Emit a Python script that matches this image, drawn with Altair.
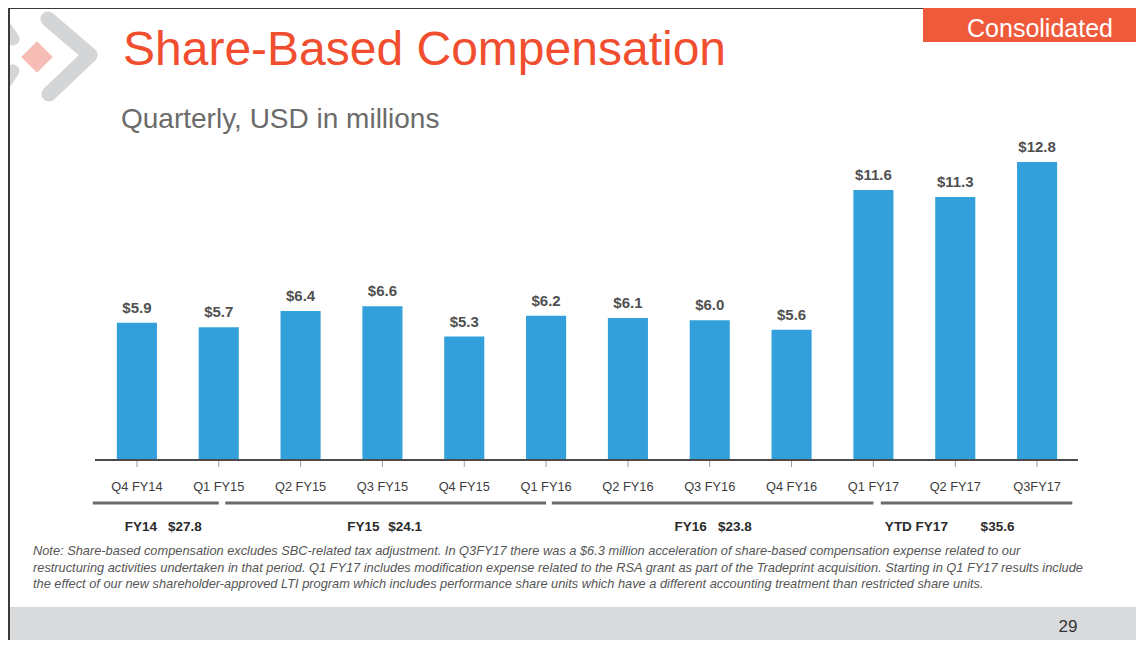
import altair as alt
import pandas as pd

# ---------------- data ----------------
quarters = ["Q4 FY14", "Q1 FY15", "Q2 FY15", "Q3 FY15", "Q4 FY15", "Q1 FY16",
            "Q2 FY16", "Q3 FY16", "Q4 FY16", "Q1 FY17", "Q2 FY17", "Q3FY17"]
sbc_values = [5.9, 5.7, 6.4, 6.6, 5.3, 6.2, 6.1, 6.0, 5.6, 11.6, 11.3, 12.8]

fy_names = ["FY14", "FY15", "FY16", "YTD FY17"]
fy_totals = [27.8, 24.1, 23.8, 35.6]

note_lines = [
    "Note: Share-based compensation excludes SBC-related tax adjustment. In Q3FY17 there was a $6.3 million acceleration of share-based compensation expense related to our",
    "restructuring activities undertaken in that period. Q1 FY17 includes modification expense related to the RSA grant as part of the Tradeprint acquisition. Starting in Q1 FY17 results include",
    "the effect of our new shareholder-approved LTI program which includes performance share units which have a different accounting treatment than restricted share units.",
]

# ---------------- layout (index units on the quarter axis) ----------------
bracket_from = [-0.54, 1.08, 5.07, 9.09]
bracket_to = [1.0, 5.0, 9.0, 11.43]
fy_name_pos = [-0.15, 2.57, 6.57, 9.14]
fy_total_pos = [0.38, 3.07, 7.10, 10.31]

W, H = 1128, 632
FONT = "Liberation Sans"
BAR_COLOR = "#34A0DB"
ORANGE = "#F04E2F"

xs = alt.Scale(domain=[-0.5, 11.5], range=[88, 1070])
ys = alt.Scale(domain=[0, 12.8], range=[452, 154])

bars_df = pd.DataFrame({
    "idx": list(range(len(quarters))),
    "quarter": quarters,
    "value": sbc_values,
})
bars_df["x0"] = bars_df["idx"] - 0.245
bars_df["x1"] = bars_df["idx"] + 0.245
bars_df["label"] = ["$" + format(v, ".1f") for v in sbc_values]

fy_df = pd.DataFrame({
    "name": fy_names,
    "total": ["$" + format(v, ".1f") for v in fy_totals],
    "from": bracket_from,
    "to": bracket_to,
    "npos": fy_name_pos,
    "tpos": fy_total_pos,
})

one = pd.DataFrame({"k": [0]})

# ---------------- bars and labels ----------------
bars = alt.Chart(bars_df).mark_rect(color=BAR_COLOR).encode(
    x=alt.X("x0:Q", scale=xs, axis=None),
    x2="x1:Q",
    y=alt.Y("value:Q", scale=ys, axis=None),
    y2=alt.datum(0),
)

value_labels = alt.Chart(bars_df).mark_text(
    font=FONT, fontSize=15, fontWeight="bold", color="#505050", baseline="middle", dy=-15
).encode(
    x=alt.X("idx:Q", scale=xs, axis=None),
    y=alt.Y("value:Q", scale=ys, axis=None),
    text="label:N",
)

axis_line = alt.Chart(one).mark_rule(color="#4a4a4a", strokeWidth=2).encode(
    x=alt.value(87), x2=alt.value(1070), y=alt.value(452)
)

ticks = alt.Chart(bars_df).mark_rule(color="#9a9a9a", strokeWidth=1).encode(
    x=alt.X("idx:Q", scale=xs, axis=None),
    y=alt.value(453), y2=alt.value(459),
)

x_labels = alt.Chart(bars_df).mark_text(
    font=FONT, fontSize=12.8, color="#3c3c3c", baseline="middle"
).encode(
    x=alt.X("idx:Q", scale=xs, axis=None),
    y=alt.value(479),
    text="quarter:N",
)

brackets = alt.Chart(fy_df).mark_rule(color="#6a6a6a", strokeWidth=3).encode(
    x=alt.X("from:Q", scale=xs, axis=None),
    x2="to:Q",
    y=alt.value(495),
)

fy_name_text = alt.Chart(fy_df).mark_text(
    font=FONT, fontSize=13.5, fontWeight="bold", color="#2a2a2a", align="left", baseline="middle"
).encode(
    x=alt.X("npos:Q", scale=xs, axis=None),
    y=alt.value(519),
    text="name:N",
)

fy_total_text = alt.Chart(fy_df).mark_text(
    font=FONT, fontSize=13.5, fontWeight="bold", color="#2a2a2a", align="left", baseline="middle"
).encode(
    x=alt.X("tpos:Q", scale=xs, axis=None),
    y=alt.value(519),
    text="total:N",
)

# ---------------- slide decorations ----------------
title = alt.Chart(one).mark_text(
    text="Share-Based Compensation", font=FONT, fontSize=48, color=ORANGE,
    align="left", baseline="alphabetic"
).encode(x=alt.value(115), y=alt.value(57))

subtitle = alt.Chart(one).mark_text(
    text="Quarterly, USD in millions", font=FONT, fontSize=28, color="#6b6b6b",
    align="left", baseline="alphabetic"
).encode(x=alt.value(113), y=alt.value(120))

cons_box = alt.Chart(one).mark_rect(color="#EF5A3B").encode(
    x=alt.value(915), x2=alt.value(1128), y=alt.value(0), y2=alt.value(34)
)
cons_text = alt.Chart(one).mark_text(
    text="Consolidated", font=FONT, fontSize=25, color="#ffffff",
    align="center", baseline="alphabetic"
).encode(x=alt.value(1032), y=alt.value(29))

footer = alt.Chart(one).mark_rect(color="#D8DADC").encode(
    x=alt.value(0), x2=alt.value(1128), y=alt.value(599), y2=alt.value(632)
)
page_num = alt.Chart(one).mark_text(
    text="29", font=FONT, fontSize=17, color="#333333", align="center", baseline="middle"
).encode(x=alt.value(1060), y=alt.value(619))

note = alt.Chart(one).mark_text(
    text=note_lines, font=FONT, fontSize=12.8, fontStyle="italic", color="#555555",
    align="left", baseline="middle", lineHeight=16.5
).encode(x=alt.value(25), y=alt.value(543))

top_border = alt.Chart(one).mark_rule(color="#3a3a3a", strokeWidth=2).encode(
    x=alt.value(0), x2=alt.value(1128), y=alt.value(0)
)
left_border = alt.Chart(one).mark_rule(color="#3a3a3a", strokeWidth=2).encode(
    x=alt.value(1), y=alt.value(0), y2=alt.value(632)
)

LOGO_GRAY = "#D4D5D7"
chev_a = alt.Chart(one).mark_rule(color=LOGO_GRAY, strokeWidth=15, strokeCap="round").encode(
    x=alt.value(40), y=alt.value(11), x2=alt.value(82), y2=alt.value(47)
)
chev_b = alt.Chart(one).mark_rule(color=LOGO_GRAY, strokeWidth=15, strokeCap="round").encode(
    x=alt.value(82), y=alt.value(47), x2=alt.value(41), y2=alt.value(86)
)
chev_c = alt.Chart(one).mark_rule(color=LOGO_GRAY, strokeWidth=13, strokeCap="round").encode(
    x=alt.value(-6), y=alt.value(15), x2=alt.value(5), y2=alt.value(31)
)
chev_d = alt.Chart(one).mark_rule(color=LOGO_GRAY, strokeWidth=13, strokeCap="round").encode(
    x=alt.value(5), y=alt.value(63), x2=alt.value(-6), y2=alt.value(79)
)
diamond = alt.Chart(one).mark_point(
    shape="diamond", filled=True, color="#F6BDB6", opacity=1, size=1000
).encode(x=alt.value(29), y=alt.value(49))

chart = alt.layer(
    chev_a, chev_b, chev_c, chev_d, diamond,
    footer, top_border, left_border,
    cons_box, cons_text, title, subtitle,
    bars, value_labels, axis_line, ticks, x_labels,
    brackets, fy_name_text, fy_total_text,
    note, page_num,
).properties(
    width=W, height=H,
    autosize=alt.AutoSizeParams(type="none"),
    padding=0,
    background="#ffffff",
).configure_view(stroke=None)

chart.save("out.html", embed_options={"renderer": "svg", "actions": False})
